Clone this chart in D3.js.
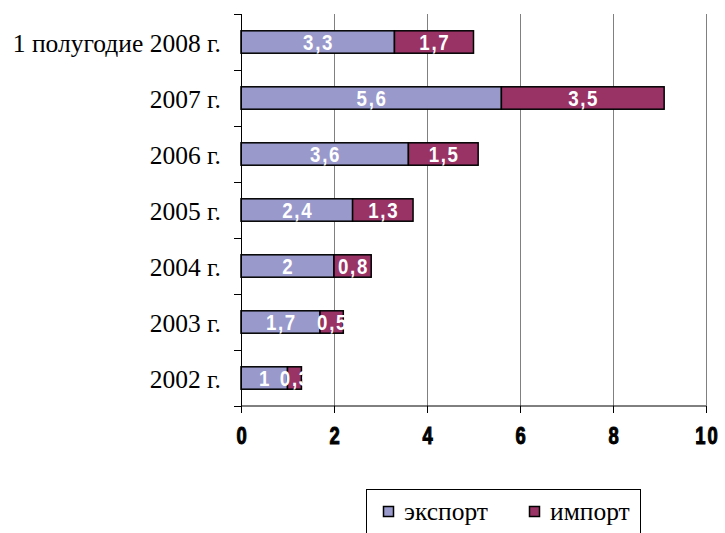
<!DOCTYPE html>
<html><head><meta charset="utf-8">
<script src="https://cdn.jsdelivr.net/npm/d3@7"></script>
<style>body{margin:0;background:#fff}</style>
</head><body>
<script>
const categories = ["1 полугодие 2008 г.", "2007 г.", "2006 г.", "2005 г.", "2004 г.", "2003 г.", "2002 г."];
const exportValues = [3.3, 5.6, 3.6, 2.4, 2, 1.7, 1];
const importValues = [1.7, 3.5, 1.5, 1.3, 0.8, 0.5, 0.3];
const exportLabels = ["3,3", "5,6", "3,6", "2,4", "2", "1,7", "1"];
const importLabels = ["1,7", "3,5", "1,5", "1,3", "0,8", "0,5", "0,3"];
const xTicks = [0, 2, 4, 6, 8, 10];
const seriesNames = ["экспорт", "импорт"];
const colors = ["#9999cc", "#993366"];

const W = 725, H = 533;
const m = {left: 241, top: 14, right: 19, bottom: 127};
const pw = W - m.left - m.right, ph = H - m.top - m.bottom;

const svg = d3.select("body").append("svg").attr("width", W).attr("height", H);
const g = svg.append("g").attr("transform", `translate(${m.left},${m.top})`);

const x = d3.scaleLinear().domain([0, 10]).range([0, pw]);
const y = d3.scaleBand().domain(categories).range([0, ph]).paddingInner(0.6).paddingOuter(0.3);

// gridlines
g.selectAll(".grid").data(xTicks.filter(d => d > 0)).enter().append("line")
  .attr("x1", d => x(d)).attr("x2", d => x(d)).attr("y1", 0).attr("y2", ph)
  .attr("stroke", "#808080").attr("stroke-width", 1).attr("shape-rendering", "crispEdges");

const rows = categories.map((c, i) => ({c, e: exportValues[i], im: importValues[i], el: exportLabels[i], il: importLabels[i]}));

// bars
rows.forEach(r => {
  g.append("rect").attr("x", x(0)).attr("y", y(r.c)).attr("width", x(r.e) - x(0)).attr("height", y.bandwidth())
    .attr("fill", colors[0]).attr("stroke", "#000").attr("stroke-width", 1.5);
  g.append("rect").attr("x", x(r.e)).attr("y", y(r.c)).attr("width", x(r.e + r.im) - x(r.e)).attr("height", y.bandwidth())
    .attr("fill", colors[1]).attr("stroke", "#000").attr("stroke-width", 1.5);
});
function barLabel(cx, cy, t) {
  g.append("text").attr("transform", `translate(${cx + 0.9},${cy + 8})scale(0.85,1)`)
    .attr("text-anchor", "middle").attr("fill", "#fff")
    .style("font", "bold 22px 'Liberation Sans'").style("letter-spacing", "2px").text(t);
}
rows.forEach(r => {
  const cy = y(r.c) + y.bandwidth() / 2;
  barLabel(x(r.e / 2), cy, r.el);
  barLabel(x(r.e + r.im / 2), cy, r.il);
});

// x axis
const xa = g.append("g").attr("transform", `translate(0,${ph})`)
  .call(d3.axisBottom(x).tickValues(xTicks).tickSize(7).tickFormat(d3.format("d")));
xa.select(".domain").attr("stroke", "#000").attr("d", `M0,0H${pw}`);
xa.selectAll("line").attr("stroke", "#000");
xa.selectAll("text").attr("y", null).attr("dy", null)
  .attr("transform", "translate(1,38)scale(0.8,1)").attr("fill", "#000")
  .attr("stroke", "#000").attr("stroke-width", 1)
  .style("font", "bold 23px 'Liberation Sans'").style("letter-spacing", "2.5px");

// y axis
const step = ph / categories.length;
g.append("line").attr("x1", 0).attr("x2", 0).attr("y1", 0).attr("y2", ph).attr("stroke", "#000").attr("shape-rendering", "crispEdges");
g.selectAll(".ytick").data(d3.range(categories.length + 1)).enter().append("line")
  .attr("x1", -7).attr("x2", 0).attr("y1", d => d * step).attr("y2", d => d * step)
  .attr("stroke", "#000").attr("shape-rendering", "crispEdges");
g.selectAll(".ylab").data(categories).enter().append("text")
  .attr("x", -20).attr("y", d => y(d) + y.bandwidth() / 2 + 10).attr("text-anchor", "end")
  .style("font", "25.5px 'Liberation Serif'").attr("fill", "#000").text(d => d);

// legend
const lg = svg.append("g");
lg.append("rect").attr("x", 366.5).attr("y", 489.5).attr("width", 274).attr("height", 60)
  .attr("fill", "#fff").attr("stroke", "#000").attr("stroke-width", 1);
const lx = [383, 529];
seriesNames.forEach((n, i) => {
  lg.append("rect").attr("x", lx[i] + 0.5).attr("y", 506.5).attr("width", 10).attr("height", 10)
    .attr("fill", colors[i]).attr("stroke", "#000").attr("stroke-width", 1.5);
  lg.append("text").attr("x", lx[i] + 21).attr("y", 520)
    .style("font", "25.5px 'Liberation Serif'").attr("fill", "#000").text(n);
});
</script>
</body></html>
